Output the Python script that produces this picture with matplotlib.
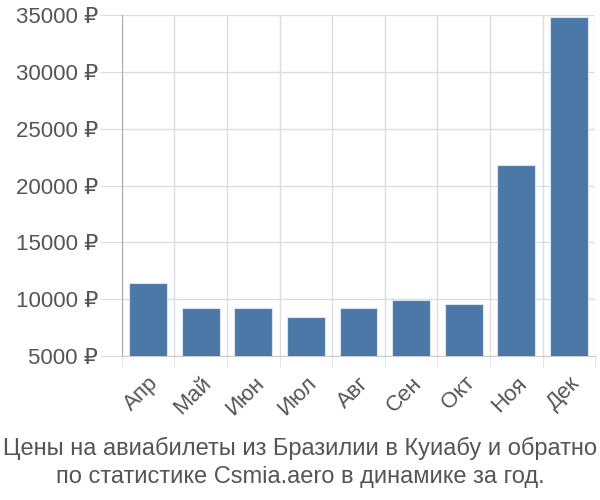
import matplotlib.pyplot as plt
import numpy as np

plt.rcParams['font.family'] = ['Liberation Sans', 'DejaVu Sans']

months = ['Апр', 'Май', 'Июн', 'Июл', 'Авг', 'Сен', 'Окт', 'Ноя', 'Дек']
prices = [11400, 9200, 9200, 8450, 9200, 9900, 9600, 21800, 34800]
yticks = [5000, 10000, 15000, 20000, 25000, 30000, 35000]

fig = plt.figure(figsize=(6, 5), dpi=100)
ax = fig.add_axes([0.203, 0.288, 0.789, 0.682])

ind = np.arange(len(months))
ax.bar(ind, prices, 0.72, color='#4c78a8', edgecolor='#dbe4ee', linewidth=0.8, zorder=3)

ax.set_xlim(-0.5, len(months) - 0.5)
ax.set_ylim(5000, 35000)

ax.set_yticks(yticks)
ax.set_yticklabels(['%d ₽' % v for v in yticks])
ax.set_xticks(ind)
ax.set_xticklabels(months, rotation=45, ha='right', rotation_mode='anchor')
ax.set_xticks(np.arange(len(months) + 1) - 0.5, minor=True)

ax.tick_params(axis='y', length=16, color='#dddddd', labelsize=16, labelcolor='#555555', pad=1)
ax.tick_params(axis='x', which='major', length=0, labelsize=16, labelcolor='#555555', pad=12)
ax.tick_params(axis='x', which='minor', length=8, color='#dddddd')

ax.grid(axis='y', color='#dddddd', linewidth=1, zorder=0)
ax.grid(axis='x', which='minor', color='#dddddd', linewidth=1, zorder=0)

for s in ['top', 'right']:
    ax.spines[s].set_visible(False)
ax.spines['left'].set_color('#aaaaaa')
ax.spines['bottom'].set_color('#cccccc')

fig.text(0.5, 0.076, 'Цены на авиабилеты из Бразилии в Куиабу и обратно\nпо статистике Csmia.aero в динамике за год.',
         ha='center', va='center', fontsize=17, color='#555555', linespacing=1.35)

plt.savefig('out.png', dpi=100)
